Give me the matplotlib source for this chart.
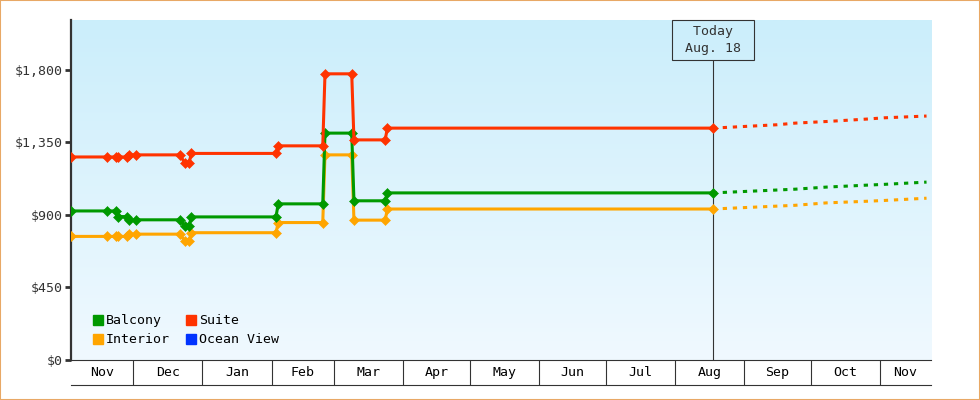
import numpy as np
import pandas as pd
import matplotlib
matplotlib.use('Agg')
import matplotlib.pyplot as plt
import matplotlib.dates as mdates
from matplotlib.patches import Patch, Rectangle

plt.rcParams['font.family'] = ['DejaVu Sans Mono', 'DejaVu Sans']

# observed price points
dates = ['2022-11-03', '2022-11-19', '2022-11-23', '2022-11-24', '2022-11-28',
         '2022-11-29', '2022-12-02', '2022-12-22', '2022-12-24', '2022-12-26',
         '2022-12-27', '2023-02-03', '2023-02-04', '2023-02-24', '2023-02-25',
         '2023-03-09', '2023-03-10', '2023-03-24', '2023-03-25', '2023-08-18']
suite = [1260, 1260, 1260, 1260, 1260, 1273, 1273, 1273, 1222, 1222,
         1282, 1282, 1329, 1329, 1776, 1776, 1366, 1366, 1439, 1439]
balcony = [925, 925, 925, 890, 890, 870, 870, 870, 832, 832,
           888, 888, 969, 969, 1408, 1408, 988, 988, 1037, 1037]
interior = [767, 767, 767, 767, 767, 781, 781, 781, 739, 739,
            790, 790, 853, 853, 1273, 1273, 868, 868, 937, 937]

# forecast after today
projDates = ['2023-08-18', '2023-09-16', '2023-09-24', '2023-10-08',
             '2023-10-26', '2023-11-03', '2023-11-22']
suiteProj = [1439, 1460, 1470, 1480, 1495, 1503, 1514]
balconyProj = [1037, 1055, 1060, 1073, 1085, 1090, 1104]
interiorProj = [937, 955, 960, 975, 985, 990, 1004]

today = '2023-08-18'
todayLabel = ' Today \n Aug. 18 '
xStart, xEnd = '2022-11-03', '2023-11-24'
yTicks = [0, 450, 900, 1350, 1800]
yMax = 2110

cBalcony = '#009900'
cSuite = '#ff3300'
cInterior = '#ffa500'
cOcean = '#0033ff'
dark = '#333333'

fig = plt.figure(figsize=(9.8, 4.0), dpi=100)
ax = fig.add_axes([71/980, 40/400, 860/980, 340/400])

# gradient background
grad = np.linspace(0, 1, 256).reshape(-1, 1)
top = np.array([203, 238, 251]) / 255
bot = np.array([240, 249, 255]) / 255
img = top + (bot - top) * grad[:, :, None]
ax.imshow(img, extent=[0, 1, 0, 1], transform=ax.transAxes, aspect='auto', zorder=0)

d = pd.to_datetime(dates)
pd_ = pd.to_datetime(projDates)
for vals, proj, col in [(interior, interiorProj, cInterior),
                        (balcony, balconyProj, cBalcony),
                        (suite, suiteProj, cSuite)]:
    ax.plot(d, vals, color=col, lw=2.2, marker='D', ms=5.2, mew=0.4, mec=col, zorder=3)
    ax.plot(pd_, proj, color=col, lw=2.2, dashes=(1.4, 1.9), zorder=3)

ax.set_xlim(pd.Timestamp(xStart), pd.Timestamp(xEnd))
ax.set_ylim(0, yMax)

# today marker
t = pd.Timestamp(today)
ax.axvline(t, ymin=0, ymax=0.88, color=dark, lw=0.8, zorder=2)
ax.text(t, 0.9405, todayLabel, transform=ax.get_xaxis_transform(), ha='center', va='center',
        multialignment='center', fontsize=9.5, color=dark, linespacing=1.35, zorder=4,
        bbox=dict(boxstyle='square,pad=0.38', fc='none', ec=dark, lw=0.8))

# y axis
ax.set_yticks(yTicks)
ax.set_yticklabels(['${:,}'.format(v) for v in yTicks])
ax.tick_params(axis='y', length=4, width=2, color=dark, labelcolor=dark, labelsize=9.5, pad=2)
for s in ['top', 'right']:
    ax.spines[s].set_visible(False)
ax.spines['left'].set_linewidth(1.6)
ax.spines['left'].set_color(dark)
ax.spines['bottom'].set_linewidth(0.8)
ax.spines['bottom'].set_color(dark)

# month cells under the axis
monthStarts = pd.date_range('2022-12-01', '2023-11-01', freq='MS')
ax.set_xticks(monthStarts)
ax.set_xticklabels([])
ax.tick_params(axis='x', length=18, width=0.8, color=dark)
lo, hi = ax.get_xlim()
edges = [lo] + [mdates.date2num(m) for m in monthStarts] + [hi]
names = ['Nov'] + [m.strftime('%b') for m in monthStarts]
xt = ax.get_xaxis_transform()
for a, b, name in zip(edges[:-1], edges[1:], names):
    ax.text((a + b) / 2, -12.5/340, name, transform=xt, ha='center', va='center',
            fontsize=9.5, color='black')
ax.plot([0, 1], [-25/340, -25/340], transform=ax.transAxes, color=dark, lw=0.8, clip_on=False)

# legend
handles = [Patch(color=cBalcony, label='Balcony'), Patch(color=cInterior, label='Interior'),
           Patch(color=cSuite, label='Suite'), Patch(color=cOcean, label='Ocean View')]
ax.legend(handles=handles, ncol=2, loc='lower left', bbox_to_anchor=(0.025, 0.04),
          frameon=False, fontsize=9.5, handlelength=0.8, handleheight=0.8,
          handletextpad=0.2, columnspacing=1.2, borderpad=0, labelspacing=0.45,
          borderaxespad=0)

fig.patches.append(Rectangle((0, 0), 1, 1, transform=fig.transFigure, fill=False,
                             ec='#e8a865', lw=1.5))

fig.savefig('out.png', dpi=100)
